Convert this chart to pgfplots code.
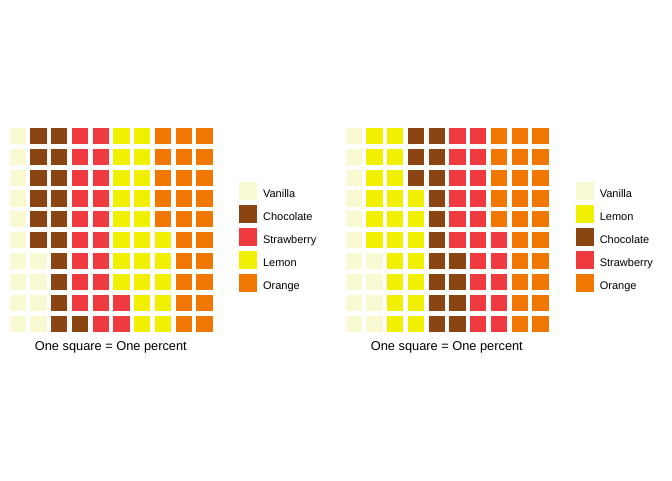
\documentclass[border=0pt]{standalone}
\usepackage{pgfplots}
\pgfplotsset{compat=1.18}
\usepackage{fontspec}
\setmainfont{Liberation Sans}

\definecolor{vanilla}{HTML}{FAFAD2}
\definecolor{chocolate}{HTML}{8B4513}
\definecolor{strawberry}{HTML}{EF3B3F}
\definecolor{lemon}{HTML}{F0F000}
\definecolor{orange}{HTML}{F07800}

% one square of the waffle, and its legend key
\pgfplotsset{
  waffle/.style={
    scale only axis, width=207.4pt, height=208.6pt,
    xmin=0.5, xmax=10.5, ymin=0.5, ymax=10.5,
    hide axis, clip=false,
    legend cell align=left,
    legend style={draw=none, fill=none, anchor=north west, inner sep=0pt,
      nodes={inner sep=0pt}, row sep=5.9pt, column sep=6.5pt,
      font=\fontsize{11}{12}\selectfont},
  },
  sq/.style={only marks, mark=square*, mark size=7.6pt,
    mark options={draw=none, fill=#1}, color=#1,
    legend image code/.code={\fill[#1] (0pt,-4.6pt) rectangle (16.7pt,12.1pt);}},
}

\begin{document}
\begin{tikzpicture}
\useasboundingbox (0pt,0pt) rectangle (672pt,480pt);

% --- first waffle ---
\begin{axis}[waffle, at={(110.85pt,250.5pt)}, anchor=center,
  legend style={at={(axis description cs:1.1193,0.727)}}]
\addplot[sq=vanilla] coordinates {
  (1,1) (1,2) (1,3) (1,4) (1,5) (1,6) (1,7) (1,8) (1,9) (1,10)
  (2,1) (2,2) (2,3) (2,4)};
\addlegendentry{Vanilla}
\addplot[sq=chocolate] coordinates {
  (2,5) (2,6) (2,7) (2,8) (2,9) (2,10)
  (3,1) (3,2) (3,3) (3,4) (3,5) (3,6) (3,7) (3,8) (3,9) (3,10)
  (4,1)};
\addlegendentry{Chocolate}
\addplot[sq=strawberry] coordinates {
  (4,2) (4,3) (4,4) (4,5) (4,6) (4,7) (4,8) (4,9) (4,10)
  (5,1) (5,2) (5,3) (5,4) (5,5) (5,6) (5,7) (5,8) (5,9) (5,10)
  (6,1) (6,2)};
\addlegendentry{Strawberry}
\addplot[sq=lemon] coordinates {
  (6,3) (6,4) (6,5) (6,6) (6,7) (6,8) (6,9) (6,10)
  (7,1) (7,2) (7,3) (7,4) (7,5) (7,6) (7,7) (7,8) (7,9) (7,10)
  (8,1) (8,2) (8,3) (8,4) (8,5)};
\addlegendentry{Lemon}
\addplot[sq=orange] coordinates {
  (8,6) (8,7) (8,8) (8,9) (8,10)
  (9,1) (9,2) (9,3) (9,4) (9,5) (9,6) (9,7) (9,8) (9,9) (9,10)
  (10,1) (10,2) (10,3) (10,4) (10,5) (10,6) (10,7) (10,8) (10,9) (10,10)};
\addlegendentry{Orange}
\node[anchor=base, font=\fontsize{12.8}{14}\selectfont, yshift=-16.9pt]
  at (axis cs:5.5,0.5) {One square = One percent};
\end{axis}

% --- second waffle ---
\begin{axis}[waffle, at={(446.85pt,250.5pt)}, anchor=center,
  legend style={at={(axis description cs:1.1227,0.727)}}]
\addplot[sq=vanilla] coordinates {
  (1,1) (1,2) (1,3) (1,4) (1,5) (1,6) (1,7) (1,8) (1,9) (1,10)
  (2,1) (2,2) (2,3) (2,4)};
\addlegendentry{Vanilla}
\addplot[sq=lemon] coordinates {
  (2,5) (2,6) (2,7) (2,8) (2,9) (2,10)
  (3,1) (3,2) (3,3) (3,4) (3,5) (3,6) (3,7) (3,8) (3,9) (3,10)
  (4,1) (4,2) (4,3) (4,4) (4,5) (4,6) (4,7)};
\addlegendentry{Lemon}
\addplot[sq=chocolate] coordinates {
  (4,8) (4,9) (4,10)
  (5,1) (5,2) (5,3) (5,4) (5,5) (5,6) (5,7) (5,8) (5,9) (5,10)
  (6,1) (6,2) (6,3) (6,4)};
\addlegendentry{Chocolate}
\addplot[sq=strawberry] coordinates {
  (6,5) (6,6) (6,7) (6,8) (6,9) (6,10)
  (7,1) (7,2) (7,3) (7,4) (7,5) (7,6) (7,7) (7,8) (7,9) (7,10)
  (8,1) (8,2) (8,3) (8,4) (8,5)};
\addlegendentry{Strawberry}
\addplot[sq=orange] coordinates {
  (8,6) (8,7) (8,8) (8,9) (8,10)
  (9,1) (9,2) (9,3) (9,4) (9,5) (9,6) (9,7) (9,8) (9,9) (9,10)
  (10,1) (10,2) (10,3) (10,4) (10,5) (10,6) (10,7) (10,8) (10,9) (10,10)};
\addlegendentry{Orange}
\node[anchor=base, font=\fontsize{12.8}{14}\selectfont, yshift=-16.9pt]
  at (axis cs:5.5,0.5) {One square = One percent};
\end{axis}
\end{tikzpicture}
\end{document}
